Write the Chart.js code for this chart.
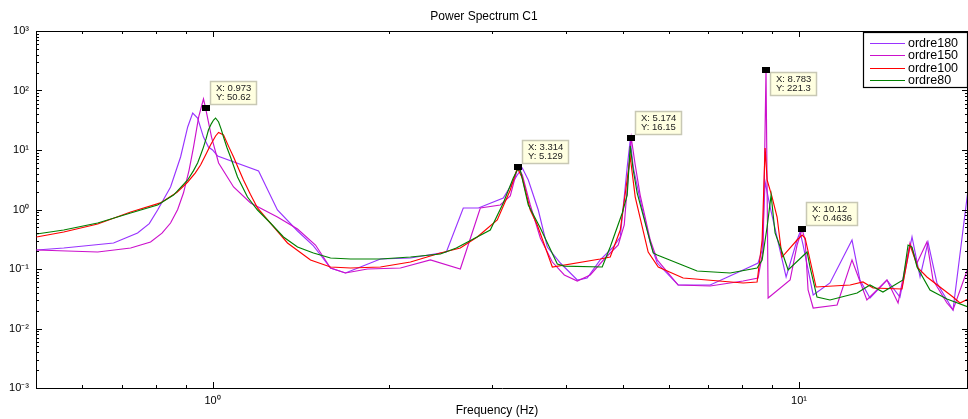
<!DOCTYPE html>
<html><head><meta charset="utf-8">
<script src="https://cdn.jsdelivr.net/npm/chart.js@4.4.1/dist/chart.umd.min.js"></script>
<style>html,body{margin:0;padding:0;background:#fff;overflow:hidden}#wrap{position:relative;width:968px;height:419px}</style>
</head><body><div id="wrap"><canvas id="c" width="968" height="419"></canvas></div>
<script>
// ---- data (frequency in Hz, power) ----
const seriesNames = ['ordre180', 'ordre150', 'ordre100', 'ordre80'];
const f180 = [0.501,0.5575,0.678,0.745,0.78,0.806,0.848,0.882,0.907,0.925,0.943,0.965,0.984,1.0,1.02,1.198,1.29,1.396,1.486,1.528,1.589,1.685,1.787,1.933,2.175,2.504,2.676,2.84,3.131,3.308,3.374,3.454,3.592,3.722,3.917,4.187,4.352,4.581,4.821,4.956,5.093,5.154,5.215,5.359,5.575,5.73,6.221,7.053,8.028,8.514,8.65,8.752,8.926,9.504,9.922,10.04,10.16,10.57,11.29,12.31,12.7,13.21,14.12,14.86,15.58,16.08,16.59,17.18,18.3,19.41];
const p180 = [0.209,0.225,0.274,0.403,0.58,0.981,2.39,7.63,24.4,41.9,34.5,16.5,11.2,10.0,7.93,4.44,0.981,0.435,0.244,0.172,0.104,0.0857,0.108,0.147,0.153,0.193,1.06,1.06,1.56,3.80,4.98,3.13,0.981,0.234,0.126,0.0653,0.0706,0.142,0.234,0.345,5.18,14.7,5.18,1.44,0.274,0.126,0.0538,0.0538,0.0962,0.126,0.209,2.90,1.10,0.0734,0.307,0.419,0.253,0.0366,0.0582,0.307,0.0653,0.0326,0.0653,0.0338,0.345,0.0734,0.284,0.0582,0.0205,2.13];
const f150 = [0.501,0.637,0.725,0.784,0.82,0.848,0.872,0.892,0.912,0.928,0.947,0.965,0.973,0.996,1.024,1.086,1.161,1.29,1.396,1.498,1.589,1.685,1.837,2.091,2.352,2.645,2.861,3.094,3.218,3.314,3.374,3.481,3.621,3.796,3.979,4.187,4.405,4.672,4.917,5.034,5.174,5.256,5.359,5.575,5.73,6.221,7.053,8.028,8.514,8.684,8.783,8.856,9.654,9.922,10.12,10.24,10.36,10.57,11.61,12.31,13.05,14.12,14.75,15.46,15.89,16.52,16.92,17.87,18.3,19.41];
const p150 = [0.209,0.193,0.225,0.284,0.40,0.593,1.0,1.89,4.6,11.2,35.9,72,50.62,16.5,6.05,2.39,1.29,0.748,0.470,0.253,0.104,0.0857,0.100,0.104,0.142,0.100,1.06,1.19,1.69,5.129,3.80,1.19,0.332,0.131,0.0793,0.0628,0.0793,0.153,0.253,0.549,16.15,5.60,1.75,0.307,0.142,0.0538,0.0518,0.0628,0.0706,0.209,221.3,0.0326,0.0653,0.253,0.4636,0.307,0.0444,0.0221,0.0248,0.142,0.0301,0.0653,0.0268,0.274,0.126,0.284,0.0653,0.0268,0.0205,0.104];
const f100 = [0.501,0.5575,0.637,0.725,0.815,0.87,0.907,0.934,0.954,0.975,0.992,1.012,1.024,1.044,1.065,1.086,1.108,1.129,1.16,1.193,1.255,1.342,1.469,1.589,1.719,1.933,2.175,2.446,2.645,2.827,3.058,3.218,3.308,3.374,3.481,3.578,3.796,4.581,4.764,4.956,5.154,5.256,5.53,5.753,6.344,8.028,8.481,8.65,8.752,8.821,8.995,9.173,9.354,9.922,10.12,10.24,10.69,12.22,12.85,13.37,14.98,15.46,15.95,16.52,18.3,18.81,19.41];
const p100 = [0.345,0.419,0.570,0.908,1.29,1.95,2.90,4.1,5.60,8.6,12.1,17.2,19.7,17.9,11.5,7.63,4.8,3.13,1.8,1.06,0.593,0.274,0.142,0.108,0.104,0.108,0.131,0.186,0.225,0.345,0.667,2.13,4.98,3.38,0.981,0.549,0.108,0.147,0.159,0.452,7.63,1.62,0.193,0.108,0.0706,0.0582,0.0605,0.307,10.8,3.13,1.62,0.748,0.159,0.307,0.373,0.332,0.0498,0.0538,0.0605,0.0479,0.0461,0.253,0.104,0.0734,0.0338,0.0268,0.0313];
const f80 = [0.501,0.5575,0.637,0.725,0.806,0.858,0.907,0.928,0.943,0.955,0.965,0.975,0.984,0.995,1.004,1.012,1.024,1.035,1.044,1.058,1.073,1.103,1.147,1.193,1.255,1.321,1.396,1.486,1.589,1.719,1.933,2.175,2.446,2.604,2.783,2.975,3.131,3.256,3.308,3.347,3.454,3.621,3.871,3.979,4.617,4.764,4.995,5.093,5.154,5.215,5.297,5.64,5.73,6.702,7.629,8.481,8.65,8.821,8.96,9.101,9.354,9.579,10.32,10.44,10.73,11.29,12.56,13.21,13.9,15.04,15.34,15.58,15.89,16.72,17.87,19.41];
const p80 = [0.388,0.452,0.593,0.873,1.19,1.75,3.13,4.5,6.05,8.4,11.2,15.5,21.7,27.5,31.9,34.5,29.6,22.0,16.5,11.0,7.63,3.52,1.62,0.981,0.593,0.345,0.234,0.186,0.153,0.147,0.147,0.159,0.179,0.225,0.319,0.452,1.29,3.38,4.61,4.61,1.19,0.489,0.121,0.112,0.108,0.234,0.873,1.75,11.7,4.61,1.89,0.186,0.172,0.0925,0.0857,0.104,0.142,0.508,1.75,0.403,0.193,0.0962,0.193,0.108,0.0338,0.0301,0.0395,0.0538,0.0411,0.0653,0.253,0.234,0.108,0.0444,0.0313,0.0230];
// data tips
const tipX = [0.973, 3.314, 5.174, 8.783, 10.12];
const tipY = [50.62, 5.129, 16.15, 221.3, 0.4636];
// axis ticks
const yTicks = [1e-3, 1e-2, 1e-1, 1, 10, 100, 1000];
const xTicks = [1, 10];
const xMin = 0.5, xMax = 19.41, yMin = 1e-3, yMax = 1e3;
const titleText = 'Power Spectrum C1';
const xLabel = 'Frequency (Hz)';

const colors = ['#9933ff', '#cc11cc', '#ff0000', '#008000'];
const FONT = '"Liberation Sans", Arial, Helvetica, sans-serif';
const supMap = {'-':'\u207B','0':'\u2070','1':'\u00B9','2':'\u00B2','3':'\u00B3'};
function pow10Label(v){ const e = Math.round(Math.log10(v)); return '10' + String(e).split('').map(c => supMap[c]).join(''); }
function pts(f, p){ return f.map((x, i) => ({x: x, y: p[i]})); }

const allF = [f180, f150, f100, f80], allP = [p180, p150, p100, p80];
const datasets = seriesNames.map((n, i) => ({
  label: n, data: pts(allF[i], allP[i]), borderColor: colors[i], backgroundColor: colors[i],
  borderWidth: 1.15, pointRadius: 0, tension: 0, fill: false, order: 4 - i
}));

const deco = {
  id: 'deco',
  afterDraw(chart) {
    const ctx = chart.ctx, a = chart.chartArea, xs = chart.scales.x, ys = chart.scales.y;
    ctx.save();
    ctx.strokeStyle = '#000'; ctx.lineWidth = 1;
    ctx.beginPath();
    ctx.moveTo(a.left, a.top + 0.5); ctx.lineTo(a.right, a.top + 0.5);
    ctx.moveTo(a.right - 0.5, a.top); ctx.lineTo(a.right - 0.5, a.bottom);
    for (let k = Math.log10(yMin); k <= Math.log10(yMax); k++) {
      const base = Math.pow(10, k);
      const py = Math.round(ys.getPixelForValue(base)) + 0.5;
      ctx.moveTo(a.left, py); ctx.lineTo(a.left + 6, py);
      ctx.moveTo(a.right, py); ctx.lineTo(a.right - 6, py);
      if (k < Math.log10(yMax)) for (let m = 2; m <= 9; m++) {
        const q = Math.round(ys.getPixelForValue(base * m)) + 0.5;
        ctx.moveTo(a.left, q); ctx.lineTo(a.left + 3, q);
        ctx.moveTo(a.right, q); ctx.lineTo(a.right - 3, q);
      }
    }
    for (let k = -1; k <= 1; k++) {
      for (let m = 1; m <= 9; m++) {
        const v = m * Math.pow(10, k);
        if (v < xMin || v > xMax) continue;
        const px = Math.round(xs.getPixelForValue(v)) + 0.5;
        const len = m === 1 ? 6 : 3;
        ctx.moveTo(px, a.bottom); ctx.lineTo(px, a.bottom - len);
        ctx.moveTo(px, a.top); ctx.lineTo(px, a.top + len);
      }
    }
    ctx.stroke();

    ctx.fillStyle = '#000';
    ctx.textAlign = 'center'; ctx.textBaseline = 'middle';
    ctx.font = '12px ' + FONT;
    ctx.fillText(titleText, 484, 17);
    ctx.fillText(xLabel, 497, 411);

    tipX.forEach((tx, i) => {
      const px = Math.round(xs.getPixelForValue(tx)), py = Math.round(ys.getPixelForValue(tipY[i]));
      const l1 = 'X: ' + tx, l2 = 'Y: ' + tipY[i];
      ctx.font = '9.5px ' + FONT;
      const w = Math.round(Math.max(ctx.measureText(l1).width, ctx.measureText(l2).width) + 11);
      const h = 23;
      const below = py < a.top + 50;
      const bx = px + 4, by = below ? py + 2 : py - 27;
      ctx.fillStyle = '#ffffe1';
      ctx.fillRect(bx, by, w, h);
      ctx.strokeStyle = '#c8c8b4'; ctx.lineWidth = 1.5;
      ctx.strokeRect(bx + 0.5, by + 0.5, w, h);
      ctx.fillStyle = '#222';
      ctx.textAlign = 'left'; ctx.textBaseline = 'middle';
      ctx.fillText(l1, bx + 6, by + 7.5);
      ctx.fillText(l2, bx + 6, by + 16.5);
      ctx.fillStyle = '#000';
      ctx.fillRect(px - 4, py - 3, 8, 6);
    });

    const lw = 104, lh = 55, lx = a.right - lw - 1, ly = a.top + 1;
    ctx.fillStyle = '#fff';
    ctx.fillRect(lx, ly, lw, lh);
    ctx.strokeStyle = '#000'; ctx.lineWidth = 1.2;
    ctx.strokeRect(lx + 0.5, ly + 0.5, lw, lh);
    ctx.font = '12.5px ' + FONT;
    ctx.textAlign = 'left'; ctx.textBaseline = 'middle';
    chart.data.datasets.forEach((d, i) => {
      const yy = Math.round(ly + 11 + i * 12.3) + 0.5;
      ctx.strokeStyle = d.borderColor; ctx.lineWidth = 1;
      ctx.beginPath(); ctx.moveTo(lx + 7, yy); ctx.lineTo(lx + 42, yy); ctx.stroke();
      ctx.fillStyle = '#000';
      ctx.fillText(d.label, lx + 45, yy + 0.5);
    });
    ctx.restore();
  }
};

new Chart(document.getElementById('c'), {
  type: 'line',
  data: { datasets: datasets },
  options: {
    responsive: false, animation: false, devicePixelRatio: 1, events: [],
    layout: { padding: { top: 31, right: 0, left: 0, bottom: 0 } },
    plugins: { legend: { display: false }, title: { display: false }, tooltip: { enabled: false } },
    scales: {
      x: {
        type: 'logarithmic', min: xMin, max: xMax,
        afterFit: s => { s.height = 31; },
        afterBuildTicks: s => { s.ticks = xTicks.map(v => ({value: v})); },
        grid: { display: false, drawTicks: false },
        border: { display: true, color: '#000', width: 1 },
        ticks: { autoSkip: false, maxRotation: 0, padding: 6, color: '#000',
          font: { family: FONT, size: 11 }, callback: v => pow10Label(v) }
      },
      y: {
        type: 'logarithmic', min: yMin, max: yMax,
        afterFit: s => { s.width = 36; },
        afterBuildTicks: s => { s.ticks = yTicks.map(v => ({value: v})); },
        grid: { display: false, drawTicks: false },
        border: { display: true, color: '#000', width: 1 },
        ticks: { autoSkip: false, padding: 7, color: '#000',
          font: { family: FONT, size: 11 }, callback: v => pow10Label(v) }
      }
    }
  },
  plugins: [deco]
});
</script>
</body></html>
